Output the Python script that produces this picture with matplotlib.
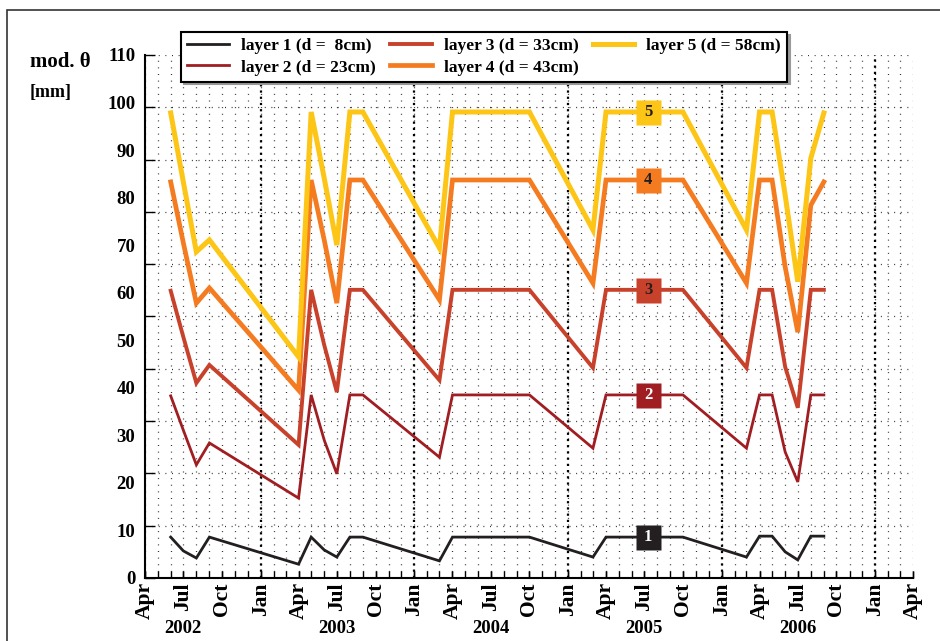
import matplotlib
matplotlib.use('Agg')
import matplotlib.pyplot as plt
import matplotlib.dates as mdates
import numpy as np
import pandas as pd
from matplotlib.patches import Rectangle

# sampling dates (first of month)
dates = ['2002-06', '2002-07', '2002-08', '2002-09', '2003-04', '2003-05', '2003-06',
         '2003-07', '2003-08', '2003-09', '2004-03', '2004-04', '2004-10', '2005-03',
         '2005-04', '2005-10', '2006-03', '2006-04', '2006-05', '2006-06', '2006-07',
         '2006-08', '2006-09']

layer1 = [8.6, 5.7, 4.2, 8.6, 2.9, 8.6, 5.9, 4.4, 8.6, 8.6, 3.6, 8.6, 8.6, 4.4, 8.6, 8.6,
          4.4, 8.8, 8.8, 5.5, 3.8, 8.8, 8.8]
layer2 = [38.3, 31.1, 23.8, 28.4, 16.8, 38.5, 29.0, 21.9, 38.5, 38.5, 25.4, 38.5, 38.5,
          27.3, 38.5, 38.5, 27.3, 38.5, 38.5, 26.5, 20.2, 38.5, 38.5]
layer3 = [60.4, 50.7, 41.0, 44.8, 28.0, 60.6, 49.0, 39.1, 60.6, 60.6, 41.6, 60.6, 60.6,
          44.2, 60.6, 60.6, 44.2, 60.6, 60.6, 44.4, 35.8, 60.6, 60.6]
layer4 = [83.3, 70.5, 57.8, 61.0, 39.5, 83.7, 71.1, 57.8, 83.7, 83.7, 58.5, 83.7, 83.7,
          62.0, 83.7, 83.7, 62.0, 83.7, 83.7, 65.4, 51.7, 78.4, 83.3]
layer5 = [97.8, 83.3, 68.6, 71.1, 46.5, 98.0, 84.1, 70.0, 98.0, 98.0, 69.4, 98.0, 98.0,
          73.2, 98.0, 98.0, 73.2, 98.0, 98.0, 80.5, 62.3, 88.3, 97.8]

labels = ['layer 1 (d =  8cm)', 'layer 2 (d = 23cm)', 'layer 3 (d = 33cm)',
          'layer 4 (d = 43cm)', 'layer 5 (d = 58cm)']
colors = ['#231f20', '#a01e22', '#c8412b', '#f47b20', '#fdc515']
widths = [2.0, 2.0, 2.8, 3.4, 3.6]
box_text = ['white', 'white', '#231f20', '#231f20', '#231f20']
ytick_vals = list(range(0, 111, 10))
years = [2002, 2003, 2004, 2005, 2006]

plt.rcParams['font.family'] = ['Liberation Serif', 'DejaVu Serif']
plt.rcParams['font.weight'] = 'bold'

fig = plt.figure(figsize=(9.4, 6.41), dpi=100)
ax = fig.add_axes([0.1543, 0.0983, 0.817, 0.816])

x = pd.to_datetime(dates)
series = [layer1, layer2, layer3, layer4, layer5]
for s, c, w, l in zip(series, colors, widths, labels):
    ax.plot(x, s, color=c, lw=w, label=l, zorder=3, solid_joinstyle='miter')

# numbered boxes
box_date = pd.Timestamp('2005-07-10')
for i, (s, c, tc) in enumerate(zip(series, colors, box_text)):
    v = s[14]
    ax.plot(box_date, v, marker='s', ms=18, color=c, mec='none', zorder=5)
    ax.text(box_date, v, str(i + 1), ha='center', va='center', color=tc,
            fontsize=12, weight='bold', zorder=6)

ax.set_xlim(pd.Timestamp('2002-04-01'), pd.Timestamp('2007-04-01'))
ax.set_ylim(0, 110)

# x axis
ax.xaxis.set_major_locator(mdates.MonthLocator(bymonth=[1, 4, 7, 10]))
ax.xaxis.set_major_formatter(mdates.DateFormatter('%b'))
ax.xaxis.set_minor_locator(mdates.MonthLocator())
ax.xaxis.remove_overlapping_locs = False
ax.tick_params(axis='x', which='both', direction='in', length=5, width=1)
ax.tick_params(axis='x', which='major', labelsize=15.5, labelrotation=90, pad=3)
ax.xaxis.grid(True, which='minor', ls=(0, (0.8, 4.5)), lw=0.9, color='#333')
for yr in range(2003, 2008):
    ax.axvline(pd.Timestamp(f'{yr}-01-01'), color='k', lw=1.6, ls=(0, (1, 1.8)), zorder=1)

# y axis: tick marks/grid and labels on separate spacing
ax.set_yticks(np.linspace(0, 110, 11))
ax.set_yticks(ytick_vals, minor=True)
ax.set_yticklabels([str(v) for v in ytick_vals], minor=True)
ax.yaxis.remove_overlapping_locs = False
ax.tick_params(axis='y', which='major', direction='in', length=7, width=1, labelleft=False)
ax.tick_params(axis='y', which='minor', length=0, labelsize=13.5, pad=7)
ax.yaxis.grid(True, which='major', ls=(0, (0.8, 4.5)), lw=0.9, color='#333')
ax.set_axisbelow(True)

for sp in ['top', 'right']:
    ax.spines[sp].set_visible(False)
for sp in ['left', 'bottom']:
    ax.spines[sp].set_linewidth(1.5)

for yr in years:
    ax.text(pd.Timestamp(f'{yr}-07-01'), -0.096, str(yr), transform=ax.get_xaxis_transform(),
            ha='center', va='center', fontsize=13.5, weight='bold')

leg = ax.legend(ncol=3, loc='upper left', bbox_to_anchor=(0.047, 1.044, 0.789, 0.0),
                mode='expand', fancybox=False, edgecolor='k', framealpha=1,
                shadow={'color': '#999999', 'alpha': 1}, handlelength=2.4,
                borderaxespad=0, borderpad=0.35, labelspacing=0.3, handletextpad=0.7,
                prop={'family': 'Liberation Serif', 'weight': 'bold', 'size': 12.5})
leg.get_frame().set_linewidth(1.5)
leg.set_zorder(10)

fig.text(30 / 940, 1 - 62 / 641, 'mod. θ', ha='left', va='center', fontsize=15, weight='bold')
fig.text(30 / 940, 1 - 92 / 641, '[mm]', ha='left', va='center', fontsize=13, weight='bold')

fig.patches.append(Rectangle((7 / 940, -0.1), 1.1, 1.1 - 10 / 641, transform=fig.transFigure,
                             fill=False, ec='#333333', lw=1.2, zorder=0))

fig.savefig('out.png', dpi=100)
